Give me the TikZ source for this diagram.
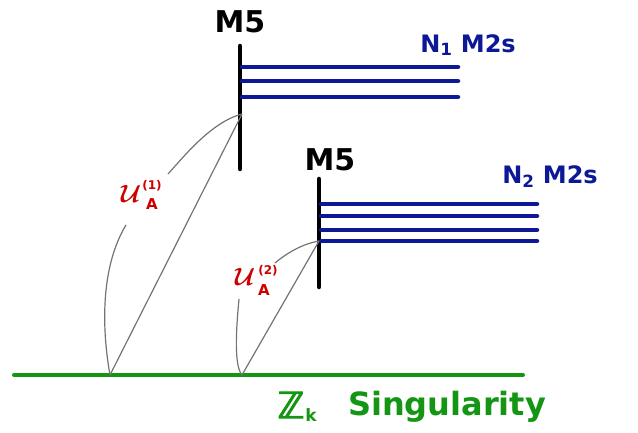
\documentclass[tikz,border=0pt]{standalone}
\usepackage{fontspec}
\setmainfont{DejaVu Sans}
\newfontfamily\zzfont[FakeBold=3]{DejaVu Sans}
\definecolor{mblue}{RGB}{12,24,150}
\definecolor{mgreen}{RGB}{20,150,20}
\definecolor{mred}{RGB}{205,0,0}
\definecolor{mgray}{RGB}{115,115,115}
\tikzset{
  brane/.style={line width=4.5pt,line cap=round,black},
  m2/.style={line width=4.5pt,line cap=round,mblue},
  sing/.style={line width=4pt,line cap=round,mgreen},
  fib/.style={line width=1.2pt,mgray},
  m5lab/.style={font=\bfseries\fontsize{30}{30}\selectfont,text=black,inner sep=0pt},
  m2lab/.style={font=\bfseries\fontsize{24}{24}\selectfont,text=mblue,inner sep=0pt},
  ubig/.style={font=\boldmath\fontsize{32}{32}\selectfont,text=mred,inner sep=0pt},
  usup/.style={font=\bfseries\fontsize{12}{12}\selectfont,text=mred,inner sep=0pt},
  usub/.style={font=\bfseries\fontsize{15}{15}\selectfont,text=mred,inner sep=0pt},
  zlab/.style={font=\bfseries\fontsize{32}{32}\selectfont,text=mgreen,inner sep=0pt},
  zbb/.style={font=\zzfont\fontsize{36}{36}\selectfont,text=mgreen,inner sep=0pt},
  zsub/.style={font=\bfseries\fontsize{17}{17}\selectfont,text=mgreen,inner sep=0pt}
}
\begin{document}
\begin{tikzpicture}[x=1pt,y=-1pt]
\useasboundingbox (0,0) rectangle (638,433);
% first M5
\node[m5lab] (m5a) at (240,22) {M5};
\coordinate (a1) at (240,46);
\coordinate (a2) at (240,169);
\draw[brane] (a1) -- (a2);
\foreach \y [count=\i] in {67,81,97}{
  \coordinate (b\i s) at (242,\y);
  \coordinate (b\i e) at (458,\y);
  \draw[m2] (b\i s) -- (b\i e);
}
\node[m2lab] (n1) at (468,45) {N$_{\mathbf 1}$ M2s};
% second M5
\node[m5lab] (m5b) at (330,160) {M5};
\coordinate (c1) at (319,179);
\coordinate (c2) at (319,287);
\draw[brane] (c1) -- (c2);
\foreach \y [count=\i] in {204,216,230,241}{
  \coordinate (d\i s) at (321,\y);
  \coordinate (d\i e) at (537,\y);
  \draw[m2] (d\i s) -- (d\i e);
}
\node[m2lab] (n2) at (550,177) {N$_{\mathbf 2}$ M2s};
% singularity
\coordinate (g1) at (14,375);
\coordinate (g2) at (523,375);
\draw[sing] (g1) -- (g2);
\node[zbb] (zz) at (291,405) {ℤ};
\node[zsub] (zk) at (311,415) {k};
\node[zlab] (zs) at (447,407) {Singularity};
% fibre labels
\node[ubig] (u1) at (131,194) {$\mathcal{U}$};
\node[usup] (u1p) at (152,186) {(1)};
\node[usub] (u1a) at (152,204) {A};
\node[ubig] (u2) at (245,277) {$\mathcal{U}$};
\node[usup] (u2p) at (268,271) {(2)};
\node[usub] (u2a) at (264,290) {A};
% fibres
\coordinate (p1) at (242,114);
\coordinate (q1) at (110,375);
\coordinate (p2) at (319,241);
\coordinate (q2) at (242,375);
\coordinate (u1t) at (168,174);
\coordinate (u1b) at (126,225);
\coordinate (u2t) at (275,263);
\coordinate (u2b) at (239,299);
\draw[fib] (p1) -- (q1);
\draw[fib] (p2) -- (q2);
\draw[fib] (p1) .. controls (212,122) and (186,154) .. (u1t);
\draw[fib] (u1b) .. controls (100,268) and (102,330) .. (q1);
\draw[fib] (p2) .. controls (302,244) and (287,253) .. (u2t);
\draw[fib] (u2b) .. controls (236,330) and (234,366) .. (q2);
\end{tikzpicture}
\end{document}
